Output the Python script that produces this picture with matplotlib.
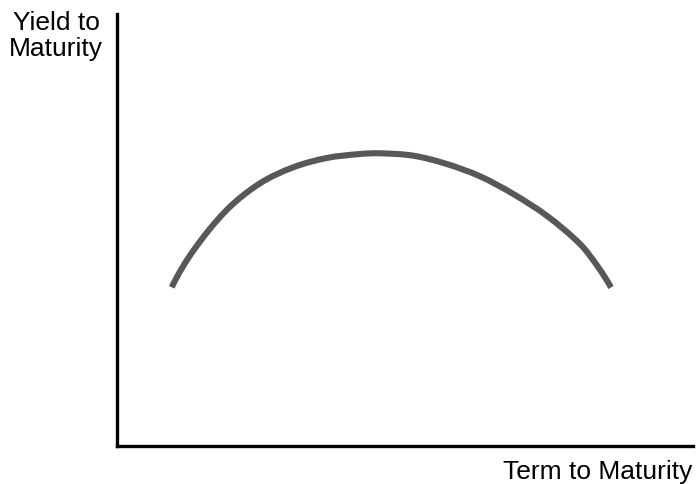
import numpy as np
import matplotlib
matplotlib.use("Agg")
import matplotlib.pyplot as plt
from matplotlib.path import Path
from matplotlib.patches import PathPatch

plt.rcParams['font.family'] = ['Liberation Sans', 'DejaVu Sans']

# curve (arbitrary units: term vs. yield)
term = [54.7, 76.3, 109.7, 143, 176.3, 209.7, 243, 263, 296.3, 329.7,
        363, 396.3, 429.7, 463, 481.3, 494]
ytm = [158.7, 195.3, 236, 262.7, 278.7, 288, 292, 292.7, 290.3, 282,
       269.7, 252, 230.3, 202, 178.7, 158.5]

ylabel = "Yield to\nMaturity"
xlabel = "Term to Maturity"

W, H = 697, 485
fig = plt.figure(figsize=(W / 100, H / 100), dpi=100)
ax = fig.add_axes([117 / W, (H - 447) / H, (693 - 117) / W, (447 - 15) / H])


def unit(v):
    return v / np.hypot(*v)


# smooth curve through the read points (cubic Bezier, tangents from neighbours)
pts = np.column_stack([term, ytm])
n = len(pts)
tang = [None] * n
for i in range(1, n - 1):
    tang[i] = unit(pts[i + 1] - pts[i - 1])
tang[0] = unit(2 * unit(pts[1] - pts[0]) - tang[1])
tang[-1] = unit(2 * unit(pts[-1] - pts[-2]) - tang[-2])
verts = [pts[0]]
codes = [Path.MOVETO]
for i in range(n - 1):
    L = np.hypot(*(pts[i + 1] - pts[i]))
    verts += [pts[i] + tang[i] * L / 3, pts[i + 1] - tang[i + 1] * L / 3, pts[i + 1]]
    codes += [Path.CURVE4] * 3
ax.add_patch(PathPatch(Path(verts, codes), fill=False, edgecolor='#585858',
                       lw=4.4, capstyle='butt', joinstyle='round'))

ax.set_xlim(0, 576)
ax.set_ylim(0, 432)
ax.set_xticks([])
ax.set_yticks([])
for s in ['top', 'right']:
    ax.spines[s].set_visible(False)
for s in ['left', 'bottom']:
    ax.spines[s].set_linewidth(2.4)
    ax.spines[s].set_color('black')

fig.text(56 / W, 1 - 11 / H, ylabel, ha='center', va='top', fontsize=19, linespacing=1.1)
fig.text(692 / W, 1 - 479 / H, xlabel, ha='right', va='baseline', fontsize=19)

fig.savefig('out.png', dpi=100)
